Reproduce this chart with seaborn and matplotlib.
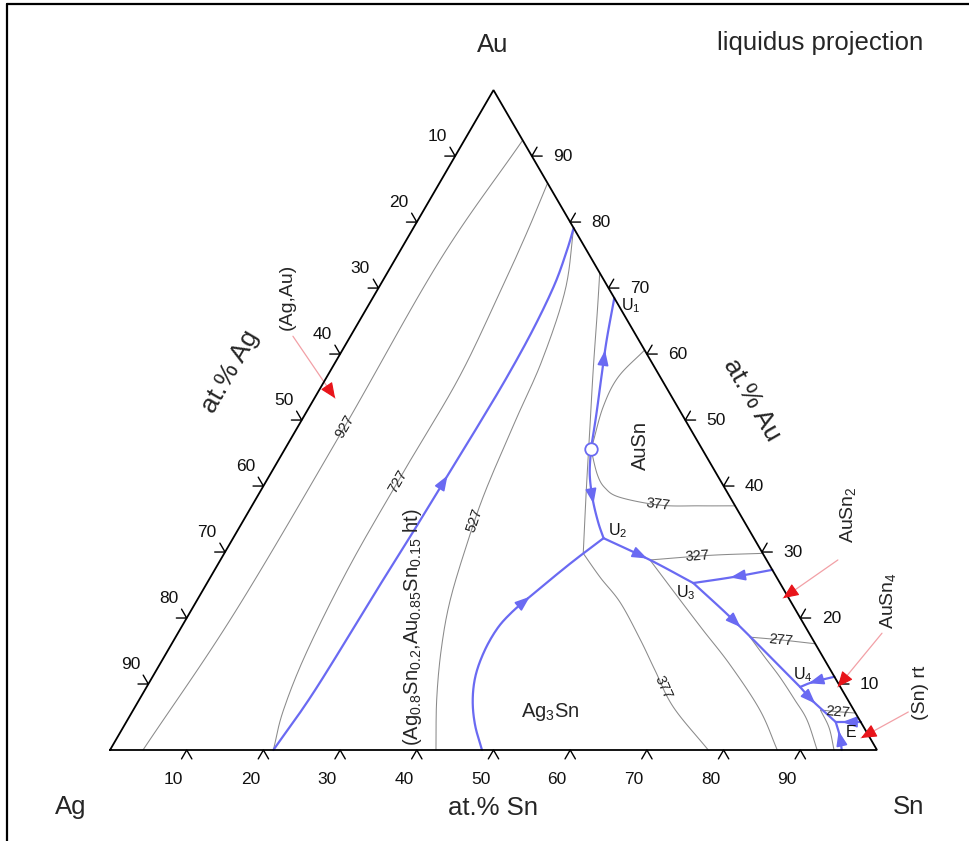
import numpy as np
import matplotlib
matplotlib.use("Agg")
import matplotlib.pyplot as plt
import seaborn as sns
from matplotlib.lines import Line2D

sns.set_theme(style="white")
plt.rcParams["font.family"] = ["Liberation Sans", "DejaVu Sans"]
plt.rcParams["mathtext.fontset"] = "custom"
plt.rcParams["mathtext.rm"] = "Liberation Sans"
plt.rcParams["mathtext.it"] = "Liberation Sans:italic"
plt.rcParams["mathtext.default"] = "regular"

# ---------------------------------------------------------------------------
# Compositions in at.% given as (Sn, Au); Ag is the balance.
# ---------------------------------------------------------------------------
tick_values = [10, 20, 30, 40, 50, 60, 70, 80, 90]

corner_sn = [0, 100, 0, 0]
corner_au = [0, 0, 100, 0]

# invariant points
P_sn, P_au = 39.9, 45.6          # maximum on the AuSn boundary (open circle)
U1_sn, U1_au = 31.5, 68.5
U2_sn, U2_au = 48.3, 32.1
U3_sn, U3_au = 63.4, 25.3
U4_sn, U4_au = 85.2, 9.55
E_sn, E_au = 92.5, 4.24

# univariant lines (liquidus valleys)
ht_sn = [21.3, 22.2, 22.7, 23.0, 23.2, 23.4, 23.5, 23.3, 22.7, 21.7, 20.9]
ht_au = [0.0, 9.1, 25.3, 33.3, 41.2, 48.5, 56.1, 63.6, 70.5, 75.8, 79.1]

ag3sn_sn = [48.5, 45.7, 43.5, 42.0, 41.3, 41.3, 41.96, 43.0, 44.5, 46.2, 48.3]
ag3sn_au = [0.0, 3.79, 7.58, 11.36, 15.15, 18.5, 20.9, 23.0, 25.8, 28.8, 32.1]

p_u1_sn = [39.9, 38.0, 35.7, 33.7, 31.5]
p_u1_au = [45.6, 50.8, 56.8, 62.1, 68.5]

p_u2_sn = [39.9, 41.7, 44.0, 46.4, 48.3]
p_u2_au = [45.6, 41.7, 37.9, 34.5, 32.1]

u2_u3_sn = [48.3, 56.0, 63.4]
u2_u3_au = [32.1, 28.8, 25.3]

aus2_u3_sn = [72.7, 68.1, 63.4]
aus2_u3_au = [27.3, 26.2, 25.3]

u3_u4_sn = [63.4, 72.1, 85.2]
u3_u4_au = [25.3, 19.2, 9.55]

aus4_u4_sn = [88.9, 86.5, 85.2]
aus4_u4_au = [11.1, 10.3, 9.55]

u4_e_sn = [85.2, 87.7, 90.3, 92.5]
u4_e_au = [9.55, 7.58, 5.76, 4.24]

edge_e_sn = [95.8, 92.5]
edge_e_au = [4.24, 4.24]

sn_e_sn = [95.4, 94.1, 92.5]
sn_e_au = [0.0, 2.1, 4.24]

# isotherms (deg C)
iso927_sn = [4.3, 5.85, 6.1, 5.9, 7.6]
iso927_au = [0.0, 20.9, 48.5, 74.2, 92.4]

iso727_sn = [21.3, 19.6, 18.2, 17.3, 17.2, 17.3, 16.3, 15.2, 14.1]
iso727_au = [0.0, 6.0, 15.0, 28.0, 42.0, 56.0, 68.0, 78.0, 85.9]

iso527_sn = [20.9, 24.5, 26.8, 27.9, 29.3, 30.8, 33.0, 35.6, 38.8, 42.5]
iso527_au = [79.1, 69.7, 59.1, 50.0, 39.4, 31.8, 22.7, 15.15, 7.58, 0.0]

iso377a_sn = [27.7, 30.2, 34.2, 38.3, 42.4, 46.8]
iso377a_au = [72.3, 66.7, 57.6, 48.5, 39.4, 29.8]

iso377b_sn = [46.8, 50.9, 55.4, 60.8, 65.0, 70.2, 78.0]
iso377b_au = [29.8, 26.1, 22.3, 16.7, 12.1, 6.5, 0.0]

iso_p_sn = [39.7, 38.3, 38.0, 39.4]
iso_p_au = [46.5, 52.0, 56.5, 60.6]

iso377c_sn = [39.9, 42.7, 44.7, 47.3, 53.2, 58.4, 63.0]
iso377c_au = [45.6, 41.7, 39.7, 38.3, 37.1, 37.0, 37.0]

iso327_sn = [56.0, 63.5, 70.2]
iso327_au = [28.8, 29.5, 29.8]

iso277_sn = [74.9, 79.0, 83.9]
iso277_au = [17.1, 16.7, 16.1]

iso227_sn = [89.6, 92.0, 94.4]
iso227_au = [6.06, 5.8, 5.6]

isoC_sn = [56.0, 63.0, 68.2, 74.4, 81.7, 87.0]
isoC_au = [28.8, 22.7, 18.2, 12.9, 6.06, 0.0]

isoD_sn = [74.9, 78.3, 81.8, 85.5, 88.6, 92.2]
isoD_au = [17.1, 14.1, 11.06, 7.58, 4.55, 0.0]

isoE_sn = [89.6, 92.1, 94.4]
isoE_au = [6.06, 3.33, 0.0]

# binary phases marked on the edges
phase_mark_sn = [2.7, 76.25, 90.1, 97.0]
phase_mark_au = [53.3, 23.0, 9.55, 1.82]

# ---------------------------------------------------------------------------
H = np.sqrt(3) / 2
BLUE = "#6a6af2"
GREY = "#8a8a8a"
RED = "#e8141a"
PINK = "#f2a0a6"


def tern(sn, au):
    sn = np.asarray(sn, dtype=float)
    au = np.asarray(au, dtype=float)
    return sn / 100 + au / 200, au / 100 * H


def smooth(x, y, n=16):
    x = np.asarray(x, float)
    y = np.asarray(y, float)
    if len(x) < 3:
        return x, y
    P = np.column_stack([x, y])
    P = np.vstack([2 * P[0] - P[1], P, 2 * P[-1] - P[-2]])
    t = np.linspace(0, 1, n, endpoint=False)[:, None]
    out = []
    for i in range(1, len(P) - 2):
        p0, p1, p2, p3 = P[i - 1], P[i], P[i + 1], P[i + 2]
        seg = 0.5 * (2 * p1 + (-p0 + p2) * t
                     + (2 * p0 - 5 * p1 + 4 * p2 - p3) * t ** 2
                     + (-p0 + 3 * p1 - 3 * p2 + p3) * t ** 3)
        out.append(seg)
    out.append(P[-2][None, :])
    out = np.vstack(out)
    return out[:, 0], out[:, 1]


def curve(sn, au):
    return smooth(*tern(sn, au))


def point_at(xs, ys, frac):
    d = np.r_[0, np.cumsum(np.hypot(np.diff(xs), np.diff(ys)))]
    s = frac * d[-1]
    x = np.interp(s, d, xs)
    y = np.interp(s, d, ys)
    s2 = min(s + 0.004, d[-1])
    s1 = max(s - 0.004, 0)
    dx = np.interp(s2, d, xs) - np.interp(s1, d, xs)
    dy = np.interp(s2, d, ys) - np.interp(s1, d, ys)
    nrm = np.hypot(dx, dy)
    return x, y, dx / nrm, dy / nrm


fig = plt.figure(figsize=(9.69, 8.41), dpi=100)
ax = fig.add_axes([0, 0, 1, 1])
ax.set_xlim(-110 / 767, 859 / 767)
ax.set_ylim(-91 / 762, 750 / 762)
ax.axis("off")

# frame lines on the figure
fig.add_artist(Line2D([7 / 969, 7 / 969], [0, 1 - 4 / 841], color="black", lw=1.6))
fig.add_artist(Line2D([7 / 969, 1], [1 - 4 / 841, 1 - 4 / 841], color="black", lw=1.6))

# triangle
cx, cy = tern(corner_sn, corner_au)
ax.plot(cx, cy, color="black", lw=1.3, solid_joinstyle="miter", zorder=5)

# ticks: short arms along the two grid directions, outward from each edge
L = 0.0135
c60, s60 = 0.5, H
tk = {"size": 12.5, "color": "#111111"}
for v in tick_values:
    # bottom edge: at.% Sn
    x, y = tern(v, 0)
    ax.plot([x - L * c60, x, x + L * c60], [y - L * s60, y, y - L * s60],
            color="black", lw=1.0, zorder=5)
    ax.annotate(str(v), (x, y), xytext=(-13, -30), textcoords="offset pixels",
                ha="center", va="center", **tk)
    # left edge: at.% Ag
    x, y = tern(0, 100 - v)
    ax.plot([x - L, x, x - L * c60], [y, y, y + L * s60],
            color="black", lw=1.0, zorder=5)
    ax.annotate(str(v), (x, y), xytext=(-18, 20), textcoords="offset pixels",
                ha="center", va="center", **tk)
    # right edge: at.% Au
    x, y = tern(100 - v, v)
    ax.plot([x + L, x, x + L * c60], [y, y, y + L * s60],
            color="black", lw=1.0, zorder=5)
    ax.annotate(str(v), (x, y), xytext=(31, 0), textcoords="offset pixels",
                ha="center", va="center", **tk)

# isotherms
isotherms = [
    (iso927_sn, iso927_au), (iso727_sn, iso727_au), (iso527_sn, iso527_au),
    (iso377a_sn, iso377a_au), (iso377b_sn, iso377b_au), (iso_p_sn, iso_p_au),
    (iso377c_sn, iso377c_au), (iso327_sn, iso327_au), (iso277_sn, iso277_au),
    (iso227_sn, iso227_au), (isoC_sn, isoC_au), (isoD_sn, isoD_au),
    (isoE_sn, isoE_au),
]
smoothed = {}
for i, (s, a) in enumerate(isotherms):
    xs, ys = curve(s, a)
    smoothed[i] = (xs, ys)
    sns.lineplot(x=xs, y=ys, sort=False, estimator=None, color=GREY, lw=0.75,
                 ax=ax, zorder=2)

# isotherm labels: (curve index, text, fraction along curve)
iso_labels = [(0, "927", 0.53), (1, "727", 0.47), (2, "527", 0.57),
              (4, "377", 0.67), (6, "377", 0.56), (7, "327", 0.42),
              (8, "277", 0.47), (9, "227", 0.49)]
for idx, txt, fr in iso_labels:
    xs, ys = smoothed[idx]
    x, y, dx, dy = point_at(xs, ys, fr)
    p0 = ax.transData.transform((x, y))
    p1 = ax.transData.transform((x + dx * 0.01, y + dy * 0.01))
    ang = np.degrees(np.arctan2(p1[1] - p0[1], p1[0] - p0[0]))
    if ang > 90:
        ang -= 180
    if ang < -90:
        ang += 180
    ax.text(x, y, txt, rotation=ang, rotation_mode="anchor", ha="center",
            va="center", fontsize=10.5, color="#222222", zorder=4)

# univariant lines with flow arrows (fraction along curve)
valleys = [
    (ht_sn, ht_au, 0.53), (ag3sn_sn, ag3sn_au, 0.63),
    (p_u1_sn, p_u1_au, 0.62), (p_u2_sn, p_u2_au, 0.55),
    (u2_u3_sn, u2_u3_au, 0.43), (aus2_u3_sn, aus2_u3_au, 0.47),
    (u3_u4_sn, u3_u4_au, 0.40), (aus4_u4_sn, aus4_u4_au, 0.60),
    (u4_e_sn, u4_e_au, 0.35), (edge_e_sn, edge_e_au, 0.55),
    (sn_e_sn, sn_e_au, 0.50),
]
px = 1 / 767
for s, a, fr in valleys:
    xs, ys = curve(s, a)
    sns.lineplot(x=xs, y=ys, sort=False, estimator=None, color=BLUE, lw=1.6,
                 ax=ax, zorder=3)
    x, y, dx, dy = point_at(xs, ys, fr)
    ax.annotate("", xy=(x + dx * 5 * px, y + dy * 5 * px),
                xytext=(x - dx * 4 * px, y - dy * 4 * px),
                arrowprops=dict(arrowstyle="-|>,head_length=0.75,head_width=0.28",
                                color=BLUE, lw=1.2, shrinkA=0, shrinkB=0),
                zorder=4)

# maximum on the AuSn valley
mx, my = tern(P_sn, P_au)
ax.plot(mx, my, marker="o", ms=9, mfc="white", mec=BLUE, mew=1.3, zorder=6)

# invariant point labels
inv_labels = [("U$_1$", 34.2, 67.4), ("U$_2$", 49.6, 33.3), ("U$_3$", 63.2, 23.8),
              ("U$_4$", 84.65, 11.4), ("E", 95.3, 2.6)]
for txt, s, a in inv_labels:
    x, y = tern(s, a)
    ax.text(x, y, txt, fontsize=11.5, ha="center", va="center", color="#111111",
            zorder=6)

# phase field labels
x, y = tern(46.1, 46.2)
ax.text(x, y, "AuSn", rotation=90, fontsize=14.5, ha="center", va="center")
x, y = tern(54.5, 5.76)
ax.text(x, y, "Ag$_3$Sn", fontsize=14.5, ha="center", va="center")
x, y = tern(30.2, 18.6)
ax.text(x, y, "(Ag$_{0.8}$Sn$_{0.2}$,Au$_{0.85}$Sn$_{0.15}$ ht)", rotation=90,
        fontsize=14.5, ha="center", va="center")

# binary phases: leader lines with red arrowheads
phase_names = ["(Ag,Au)", "AuSn$_2$", "AuSn$_4$", "(Sn) rt"]
name_pos = [(-11.2, 68.6), (78.4, 35.6), (90.1, 22.7), (101.4, 8.6)]
lead_start = [(-7.5, 62.7), (80.5, 28.8), (91.8, 17.7), (101.2, 5.76)]
for name, (ts, ta), (ls, la), s, a in zip(phase_names, name_pos, lead_start,
                                          phase_mark_sn, phase_mark_au):
    tx, ty = tern(ts, ta)
    ax.text(tx, ty, name, rotation=90, fontsize=14, ha="center", va="center")
    x0, y0 = tern(ls, la)
    x1, y1 = tern(s, a)
    ax.plot([x0, x1], [y0, y1], color=PINK, lw=0.9, zorder=4)
    d = np.hypot(x1 - x0, y1 - y0)
    ux, uy = (x1 - x0) / d, (y1 - y0) / d
    ax.annotate("", xy=(x1, y1), xytext=(x1 - ux * 9 * px, y1 - uy * 9 * px),
                arrowprops=dict(arrowstyle="-|>,head_length=0.8,head_width=0.35",
                                color=RED, lw=0.8, shrinkA=0, shrinkB=0),
                zorder=5)

# axis titles and corner labels
big = 18.5
x, y = tern(-13.0, 57.3)
ax.text(x, y, "at.% Ag", rotation=60, fontsize=19, ha="center", va="center")
x, y = tern(57.2, 53.0)
ax.text(x, y, "at.% Au", rotation=-60, fontsize=19, ha="center", va="center")
fig.text(493 / 969, 1 - 808 / 841, "at.% Sn", fontsize=big, ha="center", va="center")
fig.text(493 / 969, 1 - 45 / 841, "Au", fontsize=big, ha="center", va="center")
fig.text(71 / 969, 1 - 807 / 841, "Ag", fontsize=big, ha="center", va="center")
fig.text(909 / 969, 1 - 807 / 841, "Sn", fontsize=big, ha="center", va="center")
fig.text(923 / 969, 1 - 43 / 841, "liquidus projection", fontsize=big,
         ha="right", va="center")

fig.savefig("out.png", dpi=100, facecolor="white")
